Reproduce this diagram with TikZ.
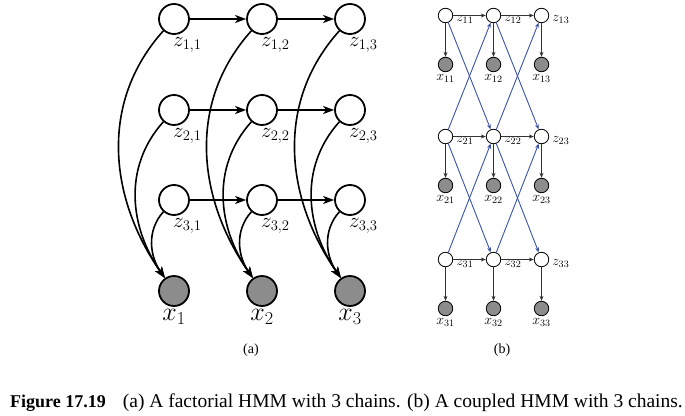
\documentclass[tikz,border=0pt]{standalone}
\usepackage{fix-cm}
\usepackage{amsmath,amssymb}
\usepackage{xcolor}
\usepackage{fontspec}
\setmainfont{Liberation Serif}
\usetikzlibrary{arrows.meta}

\definecolor{coupleblue}{RGB}{58,82,168}
\definecolor{obsgray}{RGB}{140,140,140}

\tikzset{
  hid/.style={circle, draw, line width=1.8pt, minimum size=30pt, inner sep=0pt},
  obs/.style={hid, fill=obsgray},
  hidb/.style={circle, draw, line width=0.8pt, minimum size=14.5pt, inner sep=0pt},
  obsb/.style={hidb, fill=obsgray},
  zlab/.style={label={[anchor=north west, inner sep=0pt, xshift=-1pt, yshift=-2pt, font=\fontsize{21}{21}\selectfont]south:$#1$}},
  xlab/.style={label={[anchor=north, inner sep=0pt, yshift=-2pt, font=\fontsize{26}{26}\selectfont]south:$#1$}},
  zlabb/.style={label={[anchor=north west, inner sep=0pt, xshift=3pt, font=\fontsize{14}{14}\selectfont]east:$#1$}},
  xlabb/.style={label={[anchor=north, inner sep=0pt, yshift=-2pt, font=\fontsize{14}{14}\selectfont]south:$#1$}},
  edgea/.style={->, line width=1.6pt, >={Stealth[length=11pt,width=8pt,inset=3pt]}},
  edgeb/.style={->, line width=0.9pt, black!80, >={Stealth[length=5pt,width=4pt,inset=1.5pt]}},
  edgec/.style={edgeb, coupleblue}
}

\begin{document}
\begin{tikzpicture}[x=1pt, y=1pt, node distance=88pt]
    \useasboundingbox (0,0) rectangle (685,-415);

    % (a) factorial
    \node[hid, zlab={z_{1,1}}] (f11) at (174,-19) {};
    \node[hid, zlab={z_{1,2}}] (f12) [right of=f11] {};
    \node[hid, zlab={z_{1,3}}] (f13) [right of=f12] {};
    \node[hid, zlab={z_{2,1}}] (f21) [below of=f11, node distance=91pt] {};
    \node[hid, zlab={z_{2,2}}] (f22) [right of=f21] {};
    \node[hid, zlab={z_{2,3}}] (f23) [right of=f22] {};
    \node[hid, zlab={z_{3,1}}] (f31) [below of=f21, node distance=90pt] {};
    \node[hid, zlab={z_{3,2}}] (f32) [right of=f31] {};
    \node[hid, zlab={z_{3,3}}] (f33) [right of=f32] {};
    \node[obs, xlab={x_1}] (fx1) [below of=f31, node distance=91pt] {};
    \node[obs, xlab={x_2}] (fx2) [right of=fx1] {};
    \node[obs, xlab={x_3}] (fx3) [right of=fx2] {};

    \draw [edgea] (f11) -- (f12);
    \draw [edgea] (f12) -- (f13);
    \draw [edgea] (f21) -- (f22);
    \draw [edgea] (f22) -- (f23);
    \draw [edgea] (f31) -- (f32);
    \draw [edgea] (f32) -- (f33);
    \draw [edgea] (f11) to [out=228, in=125] (fx1);
    \draw [edgea] (f21) to [out=228, in=125] (fx1);
    \draw [edgea] (f31) to [out=228, in=125] (fx1);
    \draw [edgea] (f12) to [out=228, in=125] (fx2);
    \draw [edgea] (f22) to [out=228, in=125] (fx2);
    \draw [edgea] (f32) to [out=228, in=125] (fx2);
    \draw [edgea] (f13) to [out=228, in=125] (fx3);
    \draw [edgea] (f23) to [out=228, in=125] (fx3);
    \draw [edgea] (f33) to [out=228, in=125] (fx3);
    % \draw [edgea] (f11) to [bend right=40] (fx1);

    % (b) coupled
    \node[hidb, zlabb={z_{11}}] (c11) at (445.5,-15.5) {};
    \node[hidb, zlabb={z_{12}}] (c12) [right of=c11, node distance=48pt] {};
    \node[hidb, zlabb={z_{13}}] (c13) [right of=c12, node distance=48pt] {};
    \node[obsb, xlabb={x_{11}}] (o11) [below of=c11, node distance=49pt] {};
    \node[obsb, xlabb={x_{12}}] (o12) [below of=c12, node distance=49pt] {};
    \node[obsb, xlabb={x_{13}}] (o13) [below of=c13, node distance=49pt] {};
    \node[hidb, zlabb={z_{21}}] (c21) [below of=c11, node distance=121pt] {};
    \node[hidb, zlabb={z_{22}}] (c22) [right of=c21, node distance=48pt] {};
    \node[hidb, zlabb={z_{23}}] (c23) [right of=c22, node distance=48pt] {};
    \node[obsb, xlabb={x_{21}}] (o21) [below of=c21, node distance=49pt] {};
    \node[obsb, xlabb={x_{22}}] (o22) [below of=c22, node distance=49pt] {};
    \node[obsb, xlabb={x_{23}}] (o23) [below of=c23, node distance=49pt] {};
    \node[hidb, zlabb={z_{31}}] (c31) [below of=c21, node distance=123pt] {};
    \node[hidb, zlabb={z_{32}}] (c32) [right of=c31, node distance=48pt] {};
    \node[hidb, zlabb={z_{33}}] (c33) [right of=c32, node distance=48pt] {};
    \node[obsb, xlabb={x_{31}}] (o31) [below of=c31, node distance=49pt] {};
    \node[obsb, xlabb={x_{32}}] (o32) [below of=c32, node distance=49pt] {};
    \node[obsb, xlabb={x_{33}}] (o33) [below of=c33, node distance=49pt] {};

    \draw [edgeb] (c11) -- (c12);
    \draw [edgeb] (c12) -- (c13);
    \draw [edgeb] (c21) -- (c22);
    \draw [edgeb] (c22) -- (c23);
    \draw [edgeb] (c31) -- (c32);
    \draw [edgeb] (c32) -- (c33);
    \draw [edgeb] (c11) -- (o11);
    \draw [edgeb] (c12) -- (o12);
    \draw [edgeb] (c13) -- (o13);
    \draw [edgeb] (c21) -- (o21);
    \draw [edgeb] (c22) -- (o22);
    \draw [edgeb] (c23) -- (o23);
    \draw [edgeb] (c31) -- (o31);
    \draw [edgeb] (c32) -- (o32);
    \draw [edgeb] (c33) -- (o33);
    \draw [edgec] (c11) -- (c22);
    \draw [edgec] (c12) -- (c23);
    \draw [edgec] (c21) -- (c12);
    \draw [edgec] (c22) -- (c13);
    \draw [edgec] (c21) -- (c32);
    \draw [edgec] (c22) -- (c33);
    \draw [edgec] (c31) -- (c22);
    \draw [edgec] (c32) -- (c23);

    % captions
    \node[font=\fontsize{14}{14}\selectfont] (capa) at (251,-350) {(a)};
    \node[font=\fontsize{14}{14}\selectfont] (capb) at (502,-350) {(b)};
    \node[anchor=base west, inner sep=0pt, font=\fontsize{19.5}{19.5}\selectfont] (cap) at (10,-407)
        {{\fontsize{18}{18}\selectfont\textbf{Figure 17.19}}\hspace{17pt}(a) A factorial HMM with 3 chains. (b) A coupled HMM with 3 chains.};
\end{tikzpicture}
\end{document}
